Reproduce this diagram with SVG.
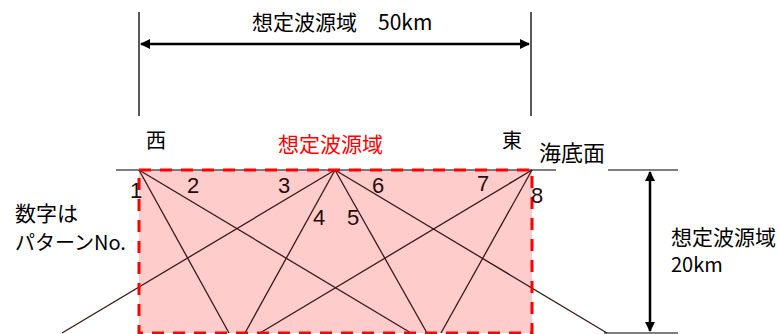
<svg xmlns="http://www.w3.org/2000/svg" width="779" height="334" viewBox="0 0 779 334">
<style>
text{font-family:"Noto Sans CJK JP","Liberation Sans",sans-serif;fill:#000;font-weight:400}
.t{font-size:20px}
.n{font-size:22px;fill:#2a0a0a;font-family:"Liberation Sans","Noto Sans CJK JP",sans-serif}
.red{fill:#ff0000}
.ln{stroke:#3a1818;stroke-width:1.3;fill:none}
.dim{stroke:#000;stroke-width:1.3;fill:none}
.arr{stroke:#000;stroke-width:2.5;fill:none}
.sea{stroke:#555;stroke-width:1.5;fill:none}
</style>
<defs>
<marker id="ah" viewBox="0 0 10 10" refX="9" refY="5" markerWidth="4" markerHeight="4" orient="auto-start-reverse" markerUnits="strokeWidth">
<path d="M0,0 L10,5 L0,10 z" fill="#000"/>
</marker>
</defs>
<g id="region">
<rect x="139" y="170" width="393" height="163" fill="#ffcccc" stroke="none"/>
</g>
<g id="seafloor">
<line class="sea" x1="116" y1="170" x2="556" y2="170"/>
<line class="sea" x1="608" y1="170" x2="678" y2="170"/>
<line class="sea" x1="604" y1="333" x2="678" y2="333"/>
</g>
<g id="connectors">
<line class="ln" x1="139" y1="170" x2="229" y2="333"/>
<line class="ln" x1="139" y1="170" x2="411" y2="333"/>
<line class="ln" x1="335" y1="170" x2="62" y2="333"/>
<line class="ln" x1="335" y1="170" x2="245" y2="333"/>
<line class="ln" x1="335" y1="170" x2="427" y2="333"/>
<line class="ln" x1="335" y1="170" x2="607" y2="333"/>
<line class="ln" x1="532" y1="170" x2="260" y2="333"/>
<line class="ln" x1="532" y1="170" x2="441" y2="333"/>
<line class="dim" x1="139" y1="12" x2="139" y2="116"/>
<line class="dim" x1="531" y1="12" x2="531" y2="116"/>
<line class="arr" x1="141" y1="44" x2="529" y2="44" marker-start="url(#ah)" marker-end="url(#ah)"/>
<line class="arr" x1="650" y1="172" x2="650" y2="331" marker-start="url(#ah)" marker-end="url(#ah)"/>
</g>
<g id="border">
<rect x="139" y="170" width="393" height="163" fill="none" stroke="#ff0000" stroke-width="3" stroke-dasharray="12 9"/>
</g>
<g id="labels">
<text class="t" x="252" y="30" style="font-size:21px">想定波源域　50km</text>
<text class="t" x="146" y="148">西</text>
<text class="t red" x="278" y="152" style="font-size:21px">想定波源域</text>
<text class="t" x="502" y="148">東</text>
<text x="539" y="161" style="font-size:22px">海底面</text>
<text class="t" x="671" y="245" style="font-size:21px">想定波源域</text>
<text class="t" x="671" y="272">20km</text>
<text class="t" x="15" y="221" style="font-size:21px">数字は</text>
<text class="t" x="15" y="250">パターンNo.</text>
</g>
<g id="numbers">
<text class="n" x="130" y="198">1</text>
<text class="n" x="187" y="193">2</text>
<text class="n" x="278" y="193">3</text>
<text class="n" x="313" y="225">4</text>
<text class="n" x="347" y="225">5</text>
<text class="n" x="372" y="193">6</text>
<text class="n" x="477" y="191">7</text>
<text class="n" x="531" y="203">8</text>
</g>
</svg>
